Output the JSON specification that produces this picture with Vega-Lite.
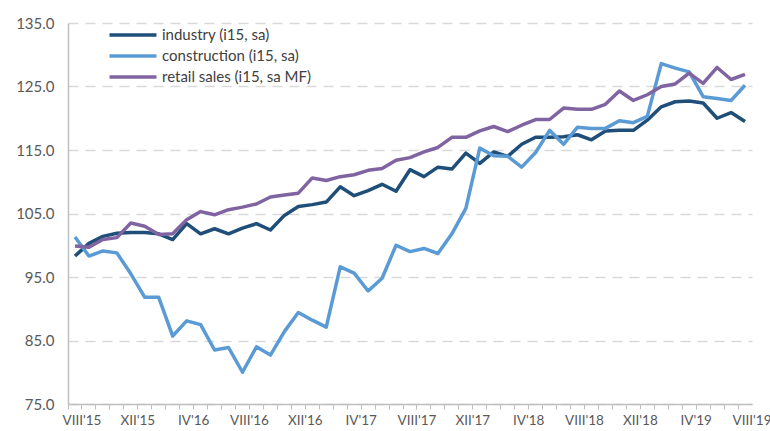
{
  "$schema": "https://vega.github.io/schema/vega-lite/v6.json",
  "autosize": "none",
  "width": 684,
  "height": 381,
  "padding": {"left": 68, "top": 23, "right": 18, "bottom": 27},
  "background": "white",
  "config": {
    "view": {"stroke": null},
    "font": "Lato"
  },
  "data": {
    "values": [
      {"month": "VIII'15", "industry": 98.3, "construction": 101.3, "retail": 99.9},
      {"month": "IX'15", "industry": 100.3, "construction": 98.3, "retail": 99.7},
      {"month": "X'15", "industry": 101.4, "construction": 99.1, "retail": 100.9},
      {"month": "XI'15", "industry": 101.9, "construction": 98.8, "retail": 101.2},
      {"month": "XII'15", "industry": 102.0, "construction": 95.5, "retail": 103.5},
      {"month": "I'16", "industry": 102.0, "construction": 91.8, "retail": 103.0},
      {"month": "II'16", "industry": 101.8, "construction": 91.8, "retail": 101.7},
      {"month": "III'16", "industry": 100.9, "construction": 85.7, "retail": 101.8},
      {"month": "IV'16", "industry": 103.4, "construction": 88.1, "retail": 104.0},
      {"month": "V'16", "industry": 101.8, "construction": 87.5, "retail": 105.3},
      {"month": "VI'16", "industry": 102.6, "construction": 83.5, "retail": 104.8},
      {"month": "VII'16", "industry": 101.8, "construction": 83.9, "retail": 105.6},
      {"month": "VIII'16", "industry": 102.7, "construction": 80.0, "retail": 106.0},
      {"month": "IX'16", "industry": 103.4, "construction": 84.0, "retail": 106.5},
      {"month": "X'16", "industry": 102.4, "construction": 82.7, "retail": 107.6},
      {"month": "XI'16", "industry": 104.7, "construction": 86.4, "retail": 107.9},
      {"month": "XII'16", "industry": 106.1, "construction": 89.4, "retail": 108.2},
      {"month": "I'17", "industry": 106.4, "construction": 88.2, "retail": 110.6},
      {"month": "II'17", "industry": 106.8, "construction": 87.1, "retail": 110.2},
      {"month": "III'17", "industry": 109.2, "construction": 96.6, "retail": 110.8},
      {"month": "IV'17", "industry": 107.8, "construction": 95.6, "retail": 111.1},
      {"month": "V'17", "industry": 108.6, "construction": 92.8, "retail": 111.8},
      {"month": "VI'17", "industry": 109.6, "construction": 94.8, "retail": 112.1},
      {"month": "VII'17", "industry": 108.5, "construction": 100.0, "retail": 113.4},
      {"month": "VIII'17", "industry": 111.9, "construction": 99.0, "retail": 113.8},
      {"month": "IX'17", "industry": 110.8, "construction": 99.5, "retail": 114.7},
      {"month": "X'17", "industry": 112.3, "construction": 98.7, "retail": 115.4},
      {"month": "XI'17", "industry": 112.0, "construction": 101.8, "retail": 117.0},
      {"month": "XII'17", "industry": 114.5, "construction": 105.8, "retail": 117.0},
      {"month": "I'18", "industry": 112.9, "construction": 115.3, "retail": 118.0},
      {"month": "II'18", "industry": 114.7, "construction": 114.1, "retail": 118.7},
      {"month": "III'18", "industry": 114.0, "construction": 114.0, "retail": 117.9},
      {"month": "IV'18", "industry": 115.9, "construction": 112.3, "retail": 118.9},
      {"month": "V'18", "industry": 117.0, "construction": 114.6, "retail": 119.8},
      {"month": "VI'18", "industry": 117.0, "construction": 118.1, "retail": 119.8},
      {"month": "VII'18", "industry": 117.1, "construction": 115.9, "retail": 121.6},
      {"month": "VIII'18", "industry": 117.4, "construction": 118.6, "retail": 121.4},
      {"month": "IX'18", "industry": 116.6, "construction": 118.4, "retail": 121.4},
      {"month": "X'18", "industry": 118.0, "construction": 118.4, "retail": 122.2},
      {"month": "XI'18", "industry": 118.1, "construction": 119.6, "retail": 124.3},
      {"month": "XII'18", "industry": 118.1, "construction": 119.3, "retail": 122.8},
      {"month": "I'19", "industry": 119.7, "construction": 120.3, "retail": 123.7},
      {"month": "II'19", "industry": 121.8, "construction": 128.6, "retail": 125.0},
      {"month": "III'19", "industry": 122.6, "construction": 127.9, "retail": 125.4},
      {"month": "IV'19", "industry": 122.7, "construction": 127.3, "retail": 127.1},
      {"month": "V'19", "industry": 122.4, "construction": 123.4, "retail": 125.5},
      {"month": "VI'19", "industry": 120.0, "construction": 123.1, "retail": 128.0},
      {"month": "VII'19", "industry": 120.9, "construction": 122.8, "retail": 126.1},
      {"month": "VIII'19", "industry": 119.5, "construction": 125.2, "retail": 126.9}
    ]
  },
  "transform": [
    {"fold": ["industry", "construction", "retail"], "as": ["series", "value"]}
  ],
  "mark": {"type": "line", "strokeWidth": 3.5, "strokeJoin": "round"},
  "encoding": {
    "x": {
      "field": "month",
      "type": "ordinal",
      "sort": null,
      "bandPosition": 0.5,
      "scale": {"type": "band", "paddingInner": 0, "paddingOuter": 0},
      "axis": {
        "title": null,
        "bandPosition": 0,
        "labelOffset": 7,
        "labelAngle": 0,
        "labelExpr": "indexof(['VIII','XII','IV'], split(datum.value, \"'\")[0]) >= 0 ? datum.value : ''",
        "labelFont": "Lato",
        "labelFontSize": 13.5,
        "labelColor": "#595959",
        "labelPadding": 4,
        "labelOverlap": false,
        "labelBound": false,
        "domainColor": "#BFBFBF",
        "domainWidth": 1.5,
        "tickColor": "#BFBFBF",
        "tickWidth": 1,
        "tickSize": 5,
        "grid": false
      }
    },
    "y": {
      "field": "value",
      "type": "quantitative",
      "scale": {"domain": [75, 135], "nice": false, "zero": false},
      "axis": {
        "title": null,
        "values": [75, 85, 95, 105, 115, 125, 135],
        "format": ".1f",
        "labelFont": "Lato",
        "labelFontSize": 15,
        "labelColor": "#595959",
        "labelPadding": 14,
        "ticks": false,
        "domainColor": "#BFBFBF",
        "domainWidth": 1.5,
        "gridColor": "#D9D9D9",
        "gridWidth": 1.5,
        "gridDash": [10, 7]
      }
    },
    "color": {
      "field": "series",
      "type": "nominal",
      "scale": {
        "domain": ["industry", "construction", "retail"],
        "range": ["#1F4E79", "#5B9BD5", "#8064A2"]
      },
      "legend": {
        "title": null,
        "orient": "none",
        "legendX": 57,
        "legendY": 4,
        "symbolType": "M-4,0H4",
        "symbolSize": 138,
        "symbolStrokeWidth": 3.5,
        "labelFont": "Lato",
        "labelFontSize": 15,
        "labelColor": "#404040",
        "labelOffset": 21,
        "rowPadding": 5,
        "padding": 0,
        "labelExpr": "datum.label == 'industry' ? 'industry (i15, sa)' : datum.label == 'construction' ? 'construction (i15, sa)' : 'retail sales (i15, sa MF)'"
      }
    }
  }
}
